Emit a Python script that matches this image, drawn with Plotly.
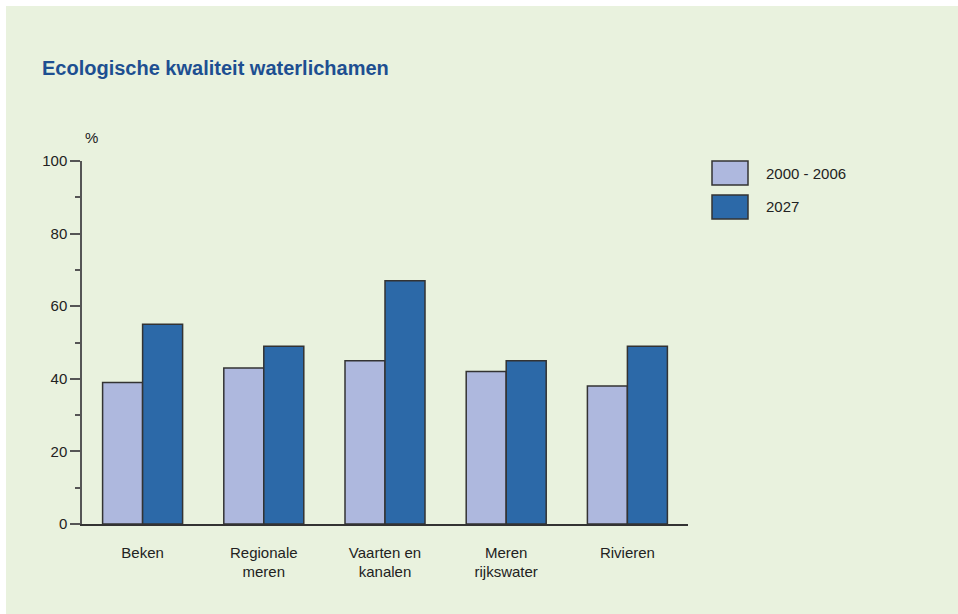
import plotly.graph_objects as go

categories = ["Beken", "Regionale<br>meren", "Vaarten en<br>kanalen", "Meren<br>rijkswater", "Rivieren"]
series_names = ["2000 - 2006", "2027"]
values_2000_2006 = [39, 43, 45, 42, 38]
values_2027 = [55, 49, 67, 45, 49]
y_ticks = [0, 20, 40, 60, 80, 100]

colors = ["#aeb8de", "#2c69a8"]
FONT = "Liberation Sans, Arial, sans-serif"
W, H = 958, 614
L, R, T, B = 82, 270, 161, 90
PW, PH = W - L - R, H - T - B

def px_x(px):
    return (px - L) / PW

def px_y(py):
    return (H - B - py) / PH

fig = go.Figure()
for name, vals, col in zip(series_names, [values_2000_2006, values_2027], colors):
    fig.add_trace(go.Bar(
        x=categories, y=vals, name=name,
        marker=dict(color=col, line=dict(color="#333333", width=1.5)),
        showlegend=False,
    ))

shapes = [
    dict(type="rect", xref="paper", yref="paper", layer="below",
         x0=px_x(6), x1=px_x(W + 5), y0=px_y(H + 5), y1=px_y(6),
         fillcolor="#e9f2de", line=dict(width=0)),
]
annotations = [
    dict(text="%", xref="paper", yref="paper", x=px_x(83), y=px_y(138),
         xanchor="left", yanchor="middle", showarrow=False,
         font=dict(family=FONT, size=15, color="#222222")),
]
legend_boxes = [(161, 185), (195, 219)]
for (y0, y1), name, col in zip(legend_boxes, series_names, colors):
    shapes.append(dict(type="rect", xref="paper", yref="paper",
                       x0=px_x(712), x1=px_x(748), y0=px_y(y1), y1=px_y(y0),
                       fillcolor=col, line=dict(color="#333333", width=1.5)))
    annotations.append(dict(text=name, xref="paper", yref="paper",
                            x=px_x(764), y=px_y((y0 + y1) / 2),
                            xanchor="left", yanchor="middle", showarrow=False,
                            font=dict(family=FONT, size=15, color="#222222")))

fig.update_layout(
    width=W, height=H,
    margin=dict(l=L, r=R, t=T, b=B),
    paper_bgcolor="white",
    plot_bgcolor="white",
    barmode="group",
    bargap=0.34,
    bargroupgap=0,
    title=dict(text="<b>Ecologische kwaliteit waterlichamen</b>",
               x=42 / W, xref="container", xanchor="left",
               y=1 - 68 / H, yref="container", yanchor="middle",
               font=dict(family=FONT, size=20, color="#1d4f91")),
    font=dict(family=FONT, size=15, color="#222222"),
    shapes=shapes,
    annotations=annotations,
    xaxis=dict(showline=True, linecolor="#333333", linewidth=1.5,
               ticks="", showgrid=False, ticklabelstandoff=14,
               tickfont=dict(family=FONT, size=15, color="#222222")),
    yaxis=dict(range=[0, 100], tickvals=y_ticks, showgrid=False, zeroline=False,
               showline=True, linecolor="#555555", linewidth=1.5,
               ticks="outside", ticklen=10, tickwidth=1.5, tickcolor="#555555",
               minor=dict(ticks="outside", ticklen=5, tickwidth=1.5,
                          tickcolor="#555555", dtick=10, showgrid=False),
               tickfont=dict(family=FONT, size=15, color="#222222")),
)

fig.write_html("out.html",
               config={"displayModeBar": False},
               post_script="document.body.style.margin='0';document.body.style.overflow='hidden';")
